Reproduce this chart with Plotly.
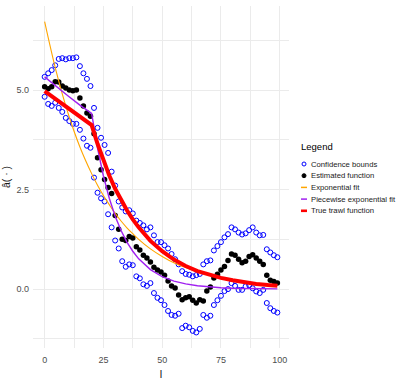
import plotly.graph_objects as go

# lags at which the estimate and its bounds are shown
lags = [0, 1.5, 3, 4.5, 6, 7.5, 9, 10.5, 12, 13.5, 15, 16.5, 18, 19.5, 21, 22.5, 24, 25.5,
        27, 28.5, 30, 31.5, 33, 34.5, 36, 37.5, 39, 40.5, 42, 43.5, 45, 46.5, 48, 49.5,
        51, 52.5, 54, 55.5, 57, 58.5, 60, 61.5, 63, 64.5, 66, 67.5, 69, 70.5, 72, 73.5,
        75, 76.5, 78, 79.5, 81, 82.5, 84, 85.5, 87, 88.5, 90, 91.5, 93, 94.5, 96, 97.5, 99]

estimated = [5.08, 5.03, 5.08, 5.21, 5.2, 5.1, 5.05, 5.0, 4.98, 5.0, 4.8, 4.6, 4.42, 4.34,
             3.9, 3.3, 3.0, 2.75, 2.55, 2.4, 1.85, 1.5, 1.25, 1.22, 1.32, 1.28, 1.06, 0.98,
             0.85, 0.78, 0.68, 0.55, 0.48, 0.43, 0.35, 0.2, 0.08, 0.03, -0.15, -0.27, -0.22,
             -0.19, -0.28, -0.35, -0.27, -0.3, -0.05, 0.05, 0.28, 0.37, 0.48, 0.57, 0.72, 0.88,
             0.85, 0.75, 0.66, 0.7, 0.82, 0.86, 0.78, 0.7, 0.62, 0.35, 0.22, 0.19, 0.15]

upper = [5.33, 5.42, 5.5, 5.62, 5.78, 5.8, 5.77, 5.8, 5.8, 5.82, 5.6, 5.42, 5.28, 5.1,
         4.55, 4.05, 3.8, 3.62, 3.42, 2.95, 2.6, 2.2, 2.05, 1.95, 1.98, 1.9, 1.72, 1.66,
         1.6, 1.5, 1.55, 1.35, 1.18, 1.18, 1.1, 1.02, 0.88, 0.75, 0.62, 0.45, 0.38, 0.36,
         0.32, 0.35, 0.38, 0.62, 0.7, 0.72, 0.97, 1.08, 1.18, 1.3, 1.38, 1.55, 1.5, 1.42,
         1.37, 1.4, 1.48, 1.55, 1.42, 1.35, 1.36, 1.0, 0.92, 0.85, 0.8]

lower = [4.83, 4.65, 4.6, 4.68, 4.55, 4.45, 4.3, 4.22, 4.15, 4.15, 4.0, 3.78, 3.6, 3.55,
         2.8, 2.42, 2.28, 2.2, 1.88, 1.55, 1.22, 1.02, 0.7, 0.56, 0.62, 0.6, 0.32, 0.27,
         0.12, 0.08, 0.15, -0.1, -0.22, -0.28, -0.4, -0.55, -0.65, -0.67, -0.62, -0.98,
         -0.92, -0.96, -1.05, -1.09, -1.0, -0.65, -0.72, -0.67, -0.4, -0.28, -0.17, -0.05,
         0.0, 0.15, 0.08, -0.02, -0.02, 0.07, 0.1, 0.02, -0.06, -0.1, -0.02, -0.35, -0.48,
         -0.55, -0.59]

# fitted / true curves
fit_lags = [0, 5, 10, 15, 20, 22.5, 25, 27.5, 30, 32.5, 35, 37.5, 40, 45, 50, 55, 60,
            65, 70, 75, 80, 85, 90, 95, 99]
exp_fit = [6.72, 5.45, 4.41, 3.57, 2.9, 2.61, 2.35, 2.12, 1.9, 1.71, 1.54, 1.39, 1.25,
           1.01, 0.82, 0.66, 0.54, 0.44, 0.36, 0.29, 0.23, 0.19, 0.15, 0.12, 0.105]
piecewise_fit = [5.33, 5.08, 4.85, 4.62, 4.41, 3.54, 2.84, 2.28, 1.83, 1.47, 1.18, 0.95,
                 0.76, 0.49, 0.31, 0.2, 0.13, 0.084, 0.054, 0.035, 0.022, 0.015, 0.009,
                 0.006, 0.004]
true_trawl = [4.97, 4.75, 4.54, 4.33, 4.12, 3.65, 3.23, 2.85, 2.52, 2.23, 1.98, 1.75,
              1.55, 1.21, 0.95, 0.74, 0.58, 0.45, 0.36, 0.28, 0.22, 0.17, 0.13, 0.1, 0.085]

FONT = "Liberation Sans, Arial, sans-serif"
GRID = "#EBEBEB"

fig = go.Figure()
for band in (upper, lower):
    fig.add_trace(go.Scatter(
        x=lags, y=band, mode="markers", name="Confidence bounds",
        marker=dict(symbol="circle-open", size=5, color="#0000FF", line=dict(width=1)),
    ))
fig.add_trace(go.Scatter(
    x=lags, y=estimated, mode="markers", name="Estimated function",
    marker=dict(symbol="circle", size=5.5, color="black"),
))
fig.add_trace(go.Scatter(
    x=fit_lags, y=exp_fit, mode="lines", name="Exponential fit",
    line=dict(color="#FFA500", width=1.1, shape="spline"),
))
fig.add_trace(go.Scatter(
    x=fit_lags, y=piecewise_fit, mode="lines", name="Piecewise exponential fit",
    line=dict(color="#A020F0", width=1.4),
))
fig.add_trace(go.Scatter(
    x=fit_lags, y=true_trawl, mode="lines", name="True trawl function",
    line=dict(color="#FF0000", width=4),
))

# ggplot-style legend drawn in the right margin
x0, plot_w = 33, 256
y_bottom, plot_h = 348, 342


def px_x(p):
    return (p - x0) / plot_w


def px_y(q):
    return (y_bottom - q) / plot_h


annotations = [dict(
    text="Legend", x=px_x(299), y=px_y(146), xref="paper", yref="paper",
    xanchor="left", yanchor="middle", showarrow=False,
    font=dict(family=FONT, size=9.5, color="black"),
)]
shapes = []
items = [
    ("Confidence bounds", "open", "#0000FF"),
    ("Estimated function", "dot", "black"),
    ("Exponential fit", 1.5, "#FFA500"),
    ("Piecewise exponential fit", 1.5, "#A020F0"),
    ("True trawl function", 2.6, "#FF0000"),
]
for i, (label, kind, color) in enumerate(items):
    yc = 164 + i * 11.7
    annotations.append(dict(
        text=label, x=px_x(309), y=px_y(yc), xref="paper", yref="paper",
        xanchor="left", yanchor="middle", showarrow=False,
        font=dict(family=FONT, size=7.7, color="#1A1A1A"),
    ))
    if kind in ("open", "dot"):
        shapes.append(dict(
            type="circle", xref="paper", yref="paper",
            xsizemode="pixel", ysizemode="pixel",
            xanchor=px_x(304), yanchor=px_y(yc), x0=-2, x1=2, y0=-2, y1=2,
            line=dict(color=color, width=1),
            fillcolor=color if kind == "dot" else "rgba(0,0,0,0)",
        ))
    else:
        shapes.append(dict(
            type="line", xref="paper", yref="paper",
            xsizemode="pixel", ysizemode="pixel",
            xanchor=px_x(304), yanchor=px_y(yc), x0=-3, x1=3, y0=0, y1=0,
            line=dict(color=color, width=kind),
        ))

fig.update_layout(
    width=397, height=392,
    margin=dict(l=33, r=108, t=6, b=44),
    plot_bgcolor="white", paper_bgcolor="white",
    showlegend=False,
    annotations=annotations,
    shapes=shapes,
    font=dict(family=FONT),
)
fig.update_xaxes(
    range=[-4.95, 103.95], tick0=0, dtick=25, ticks="", showline=False, zeroline=False,
    showgrid=True, gridcolor=GRID, gridwidth=1,
    minor=dict(tick0=0, dtick=12.5, showgrid=True, gridcolor=GRID, gridwidth=0.6),
    tickfont=dict(family=FONT, size=9, color="#4D4D4D"), ticklabelstandoff=5,
    title=dict(text="l", font=dict(family=FONT, size=11, color="#1A1A1A"), standoff=6),
)
fig.update_yaxes(
    range=[-1.48, 7.11], tick0=0, dtick=2.5, tickformat=".1f", ticks="", showline=False,
    zeroline=False, showgrid=True, gridcolor=GRID, gridwidth=1,
    minor=dict(tick0=0, dtick=1.25, showgrid=True, gridcolor=GRID, gridwidth=0.6),
    tickfont=dict(family=FONT, size=9, color="#4D4D4D"), ticklabelstandoff=3,
    title=dict(text="â( · )", font=dict(family=FONT, size=10.5, color="#1A1A1A"), standoff=3),
)

fig.write_html(
    "out.html",
    config={"displayModeBar": False},
    post_script="document.body.style.margin='0';",
)
